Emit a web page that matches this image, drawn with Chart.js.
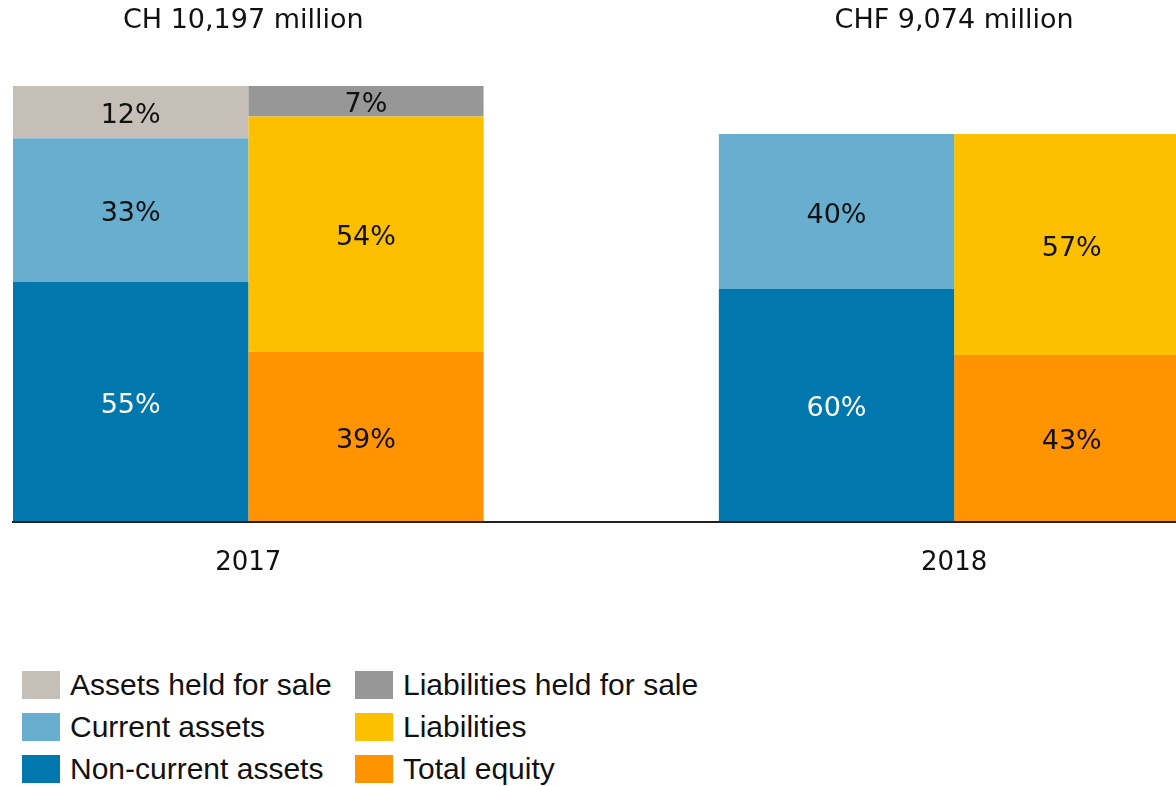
<!DOCTYPE html>
<html>
<head>
<meta charset="utf-8">
<script src="https://cdn.jsdelivr.net/npm/chart.js@4.4.1/dist/chart.umd.min.js"></script>
<style>
    html, body { margin: 0; padding: 0; background: #fff; }
    body { width: 1176px; height: 786px; overflow: hidden; position: relative; }
    #wrap { position: absolute; left: 0; top: 0; width: 1176px; height: 605px; }
    #legend {
        position: absolute; left: 22px; top: 671px;
        display: grid; grid-template-columns: 333px auto; row-gap: 14px;
        font-family: 'Liberation Sans', Arial, sans-serif; font-size: 30px; color: #111;
    }
    .item { display: flex; align-items: center; height: 28px; line-height: 28px; white-space: nowrap; }
    .sw { width: 38px; height: 28px; margin-right: 10px; flex: none; }
</style>
</head>
<body>
<div id="wrap"><canvas id="chart"></canvas></div>
<div id="legend"></div>
<script>
const years = ['2017', '2018'];
const yearPos = [1, 4];
const totals = [10197, 9074];
const totalLabels = ['CH 10,197 million', 'CHF 9,074 million'];

// shares in % of each year's balance sheet total
const nonCurrentAssets = [55, 60];
const currentAssets = [33, 40];
const assetsHeldForSale = [12, 0];
const totalEquity = [39, 43];
const liabilities = [54, 57];
const liabilitiesHeldForSale = [7, 0];

const series = [
    { label: 'Non-current assets', stack: 'assets', pcts: nonCurrentAssets, color: '#0077ad', text: '#ffffff' },
    { label: 'Current assets', stack: 'assets', pcts: currentAssets, color: '#67aecf', text: '#111111' },
    { label: 'Assets held for sale', stack: 'assets', pcts: assetsHeldForSale, color: '#c6bfb8', text: '#111111' },
    { label: 'Total equity', stack: 'funding', pcts: totalEquity, color: '#ff9400', text: '#111111' },
    { label: 'Liabilities', stack: 'funding', pcts: liabilities, color: '#fcc000', text: '#111111' },
    { label: 'Liabilities held for sale', stack: 'funding', pcts: liabilitiesHeldForSale, color: '#979797', text: '#111111' },
];

// legend rows, left column then right column
const legendOrder = [
    'Assets held for sale', 'Liabilities held for sale',
    'Current assets', 'Liabilities',
    'Non-current assets', 'Total equity',
];

Chart.defaults.font.family = '"DejaVu Sans", Verdana, sans-serif';
Chart.defaults.color = '#111';

const datasets = series.map(s => ({
    label: s.label,
    stack: s.stack,
    pcts: s.pcts,
    textColor: s.text,
    backgroundColor: s.color,
    borderWidth: 0,
    data: s.pcts.map((p, i) => ({ x: yearPos[i], y: p ? p / 100 * totals[i] : null })),
}));

const segmentLabels = {
    id: 'segmentLabels',
    afterDatasetsDraw(chart) {
        const ctx = chart.ctx;
        ctx.save();
        ctx.textAlign = 'center';
        ctx.textBaseline = 'middle';
        ctx.font = '27px "DejaVu Sans", Verdana, sans-serif';
        chart.data.datasets.forEach((ds, di) => {
            chart.getDatasetMeta(di).data.forEach((bar, i) => {
                const p = ds.pcts[i];
                if (!p) return;
                const { x, y, base } = bar.getProps(['x', 'y', 'base'], true);
                ctx.fillStyle = ds.textColor;
                ctx.fillText(p + '%', x, (y + base) / 2 + 4);
            });
        });
        const xs = chart.scales.x;
        ctx.fillStyle = '#111';
        totalLabels.forEach((t, i) => {
            ctx.fillText(t, xs.getPixelForValue(yearPos[i]) - (i === 0 ? 5 : 0), 21);
        });
        ctx.restore();
    },
};

new Chart(document.getElementById('chart'), {
    type: 'bar',
    data: { datasets },
    options: {
        responsive: true,
        maintainAspectRatio: false,
        animation: false,
        barPercentage: 1,
        categoryPercentage: 2 / 3,
        layout: { padding: { left: 13, top: 86, right: 0, bottom: 0 } },
        plugins: {
            legend: { display: false },
            tooltip: { enabled: false },
        },
        scales: {
            x: {
                type: 'linear',
                offset: false,
                bounds: 'data',
                min: 0,
                max: 4.943,
                afterBuildTicks: axis => { axis.ticks = yearPos.map(v => ({ value: v })); },
                grid: { display: false, drawTicks: false, offset: false },
                border: { display: true, color: '#222', width: 2, z: 1 },
                ticks: {
                    padding: 26,
                    color: '#111',
                    font: { size: 26 },
                    callback: (v, i) => years[i],
                },
            },
            y: {
                display: false,
                stacked: true,
                min: 0,
                max: totals[0],
            },
        },
    },
    plugins: [segmentLabels],
});

const legend = document.getElementById('legend');
legendOrder.forEach(name => {
    const s = series.find(d => d.label === name);
    const item = document.createElement('div');
    item.className = 'item';
    item.innerHTML = '<span class="sw" style="background:' + s.color + '"></span><span>' + s.label + '</span>';
    legend.appendChild(item);
});
</script>
</body>
</html>
